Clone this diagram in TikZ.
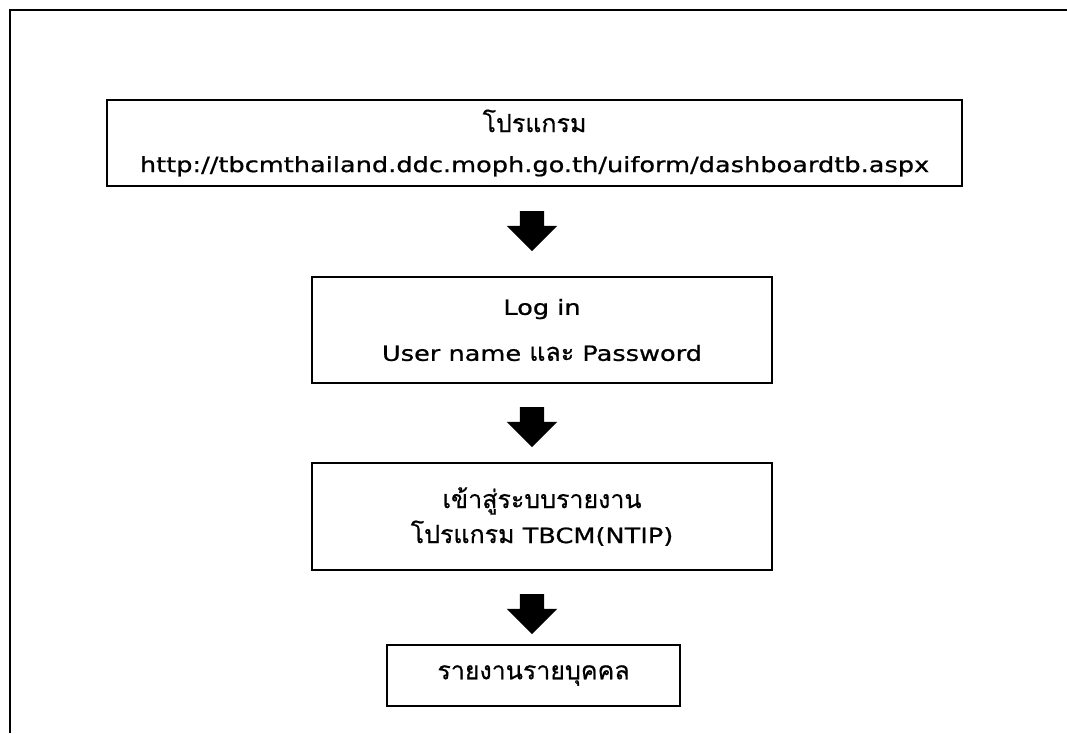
\documentclass[tikz,border=0pt]{standalone}
\usepackage{fontspec}
\setmainfont[FakeStretch=1.22, FakeBold=0.8]{DejaVu Sans}
\newfontfamily\thaifont[Script=Thai, FakeBold=0.5]{Loma}
\usepackage{tikz}
\usetikzlibrary{shapes.arrows}
\newcommand{\flowfontsize}{\fontsize{21}{40}\selectfont}
\newcommand{\thaitext}[1]{{\thaifont\fontsize{25}{40}\selectfont #1}}
\tikzstyle{stepbox}=[draw, line width=1.5pt, inner sep=0, align=center, font=\flowfontsize]
\tikzstyle{downarrow}=[single arrow, fill=black, draw=none, inner sep=12pt, minimum height=40pt,
                       single arrow head extend=13pt, single arrow head indent=0pt, shape border rotate=270]
\tikzstyle{flowchart}=[x=1pt, y=-1pt,
                       % frame lines cut by the page edge
                       frame/.style={line width=2.5pt}]

\begin{document}
\begin{tikzpicture}[flowchart]
        \useasboundingbox (0, 0) rectangle (1067, 733);
        \draw[frame] (10, 733) -- (10, 10) -- (1067, 10);
        \node[stepbox, minimum width=855pt, minimum height=86pt]  (P1) at (534.5, 143)
            {\thaitext{โปรแกรม}\\http://tbcmthailand.ddc.moph.go.th/uiform/dashboardtb.aspx};
        \node[downarrow] (A1) at (532, 225) {};
        \node[stepbox, minimum width=460pt, minimum height=106pt] (P2) at (542, 330)
            {Log in\\[6pt]User name \thaitext{และ} Password};
        \node[downarrow] (A2) at (532, 421) {};
        \node[stepbox, minimum width=460pt, minimum height=107pt] (P3) at (542, 516.5)
            {\thaitext{เข้าสู่ระบบรายงาน}\\[-5pt]\thaitext{โปรแกรม} TBCM(NTIP)};
        \node[downarrow] (A3) at (532, 608) {};
        \node[stepbox, minimum width=293pt, minimum height=61pt]  (P4) at (533.5, 675.5)
            {\thaitext{รายงานรายบุคคล}\rule[-4pt]{0pt}{4pt}};
    \end{tikzpicture}
\end{document}
